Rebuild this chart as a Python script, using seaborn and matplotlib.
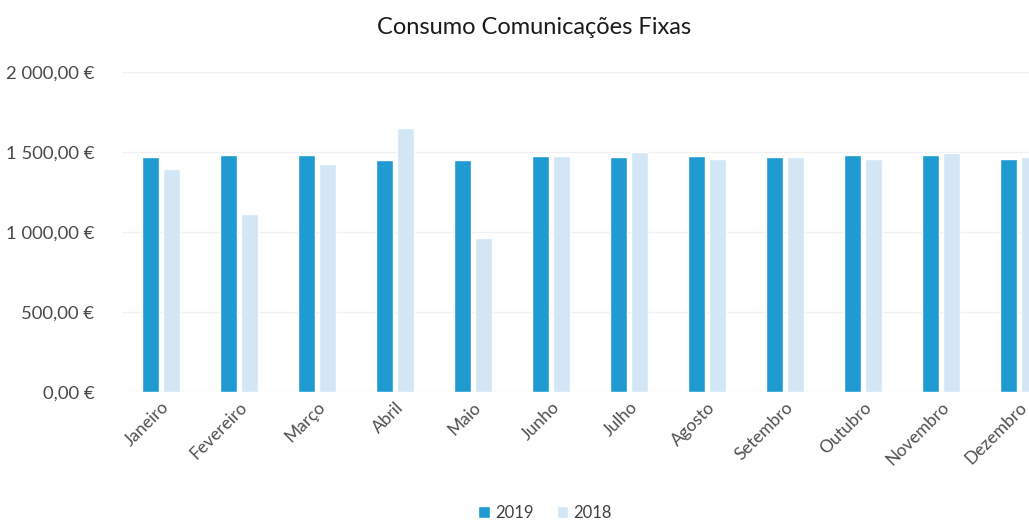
import matplotlib
matplotlib.use("Agg")
import matplotlib.pyplot as plt
import seaborn as sns
import pandas as pd
from matplotlib.ticker import FuncFormatter

meses = ['Janeiro', 'Fevereiro', 'Março', 'Abril', 'Maio', 'Junho', 'Julho',
         'Agosto', 'Setembro', 'Outubro', 'Novembro', 'Dezembro']
consumo_2019 = [1467, 1481, 1479, 1450, 1450, 1475, 1467, 1475, 1467, 1481, 1479, 1456]
consumo_2018 = [1392, 1112, 1423, 1648, 960, 1475, 1500, 1454, 1467, 1454, 1492, 1467]
anos = ['2019', '2018']
cores = ['#1f9bd1', '#d2e6f6']

# tabela longa para o seaborn
df = pd.DataFrame({
    'Mes': meses * 2,
    'Valor': consumo_2019 + consumo_2018,
    'Ano': [anos[0]] * 12 + [anos[1]] * 12,
})

sns.set_style('white')
plt.rcParams['font.family'] = ['Lato', 'DejaVu Sans']

fig = plt.figure(figsize=(10.29, 5.24), dpi=100)
ax = fig.add_axes([0.1186, 0.2519, 0.9096, 0.6107])

sns.barplot(data=df, x='Mes', y='Valor', hue='Ano', hue_order=anos,
            palette=cores, saturation=1, width=0.54, gap=0.22, ax=ax, legend=True)

ax.set_ylim(0, 2000)
ax.set_xlim(-0.5, len(meses) - 0.5)
ax.set_yticks([0, 500, 1000, 1500, 2000])
fmt = lambda v, p: f'{v:,.2f}'.replace(',', ' ').replace('.', ',') + ' €'
ax.yaxis.set_major_formatter(FuncFormatter(fmt))
ax.grid(axis='y', color='#f1f1f1', linewidth=1)
ax.set_axisbelow(True)
sns.despine(ax=ax, left=True, bottom=True)
ax.tick_params(axis='y', length=0, pad=20, labelsize=13.3, labelcolor='#4a4a4a')
ax.tick_params(axis='x', length=0, pad=5, labelsize=12.5, labelcolor='#505050')
plt.setp(ax.get_xticklabels(), rotation=45, ha='right', rotation_mode='anchor')
ax.set_xlabel('')
ax.set_ylabel('')

fig.text(534 / 1029, 1 - 27 / 524, 'Consumo Comunicações Fixas', ha='center', va='center',
         fontsize=17, color='#1a1a1a')

handles, labels = ax.get_legend_handles_labels()
ax.get_legend().remove()
fig.legend(handles, labels, loc='center', bbox_to_anchor=(545 / 1029, 1 - 513 / 524),
           ncol=2, frameon=False, fontsize=12, handlelength=0.7, handleheight=0.7,
           handletextpad=0.3, columnspacing=1.4, labelcolor='#404040')

fig.savefig('out.png', dpi=100)
